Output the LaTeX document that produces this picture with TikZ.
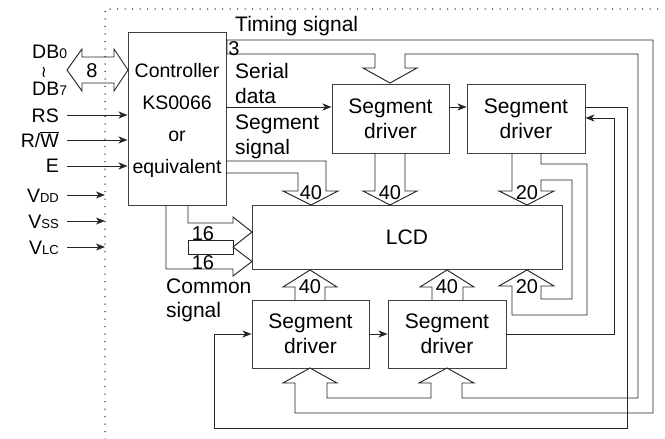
\documentclass[tikz,border=0pt]{standalone}
\usepackage{fontspec}
\setmainfont{Liberation Sans}
\newfontfamily\dejavu{DejaVu Sans}
\usetikzlibrary{arrows.meta}
\begin{document}
\begin{tikzpicture}[x=1pt,y=-1pt,
  ln/.style={draw=black!85, line width=0.95pt, line join=miter},
  box/.style={draw=black!75, line width=0.95pt, inner sep=0pt, align=center,
     font=\fontsize{21}{25}\selectfont},
  arr/.style={ln, -{Stealth[length=9pt,width=7pt,inset=2.5pt]}},
  txt/.style={inner sep=0pt, font=\fontsize{21}{25}\selectfont},
  sig/.style={inner sep=0pt, font=\fontsize{19.5}{20}\selectfont},
  num/.style={inner sep=0pt, font=\fontsize{20}{20}\selectfont},
  dotline/.style={draw=black!85, line width=1.5pt, line cap=round, dash pattern=on 0pt off 7.5pt}
]
\useasboundingbox (0,0) rectangle (665,439);
% dotted frame
\draw[dotline] (105,439) -- (105,9) -- (665,9);

% boxes
\node[box, minimum width=98pt, minimum height=173pt] (ctrl) at (177,118.5) {};
\node[inner sep=0pt, align=center, font=\fontsize{19.5}{32}\selectfont] (ctrltxt) at (177,120) {Controller\\KS0066\\or\\equivalent};
\node[box, minimum width=117pt, minimum height=69pt] (seg1) at (390.5,118.5) {Segment\\driver};
\node[box, minimum width=118pt, minimum height=69pt] (seg2) at (526,118.5) {Segment\\driver};
\node[box, minimum width=310pt, minimum height=64pt] (lcd) at (407,237) {LCD};
\node[box, minimum width=117pt, minimum height=68pt] (seg3) at (310.5,334) {Segment\\driver};
\node[box, minimum width=118pt, minimum height=68pt] (seg4) at (447,334) {Segment\\driver};

% left signals
\node[sig, anchor=base west] (db0) at (32,58) {DB{\fontsize{14}{14}\selectfont 0}};
\node[sig, anchor=base west] (db7) at (32,95) {DB{\fontsize{14}{14}\selectfont 7}};
\node[inner sep=0pt, font=\dejavu\fontsize{16}{16}\selectfont] (wr) at (44,72) {≀};
\node[sig, anchor=base east] (rs) at (59,122) {RS};
\node[sig, anchor=base east] (rw) at (59,147) {R/$\overline{\hbox{W}}$};
\node[sig, anchor=base east] (en) at (59,172) {E};
\node[sig, anchor=base east] (vdd) at (59,202) {V{\fontsize{13}{13}\selectfont DD}};
\node[sig, anchor=base east] (vss) at (59,228) {V{\fontsize{13}{13}\selectfont SS}};
\node[sig, anchor=base east] (vlc) at (59,254) {V{\fontsize{13}{13}\selectfont LC}};

\coordinate (pRS) at (67,115);
\coordinate (pRW) at (67,140);
\coordinate (pE) at (67,166);
\coordinate (frame) at (105,0);
\coordinate (pVDD) at (67,195);
\coordinate (pVSS) at (67,221);
\coordinate (pVLC) at (67,247);
\draw[arr] (pRS) -- (pRS -| ctrl.west);
\draw[arr] (pRW) -- (pRW -| ctrl.west);
\draw[arr] (pE) -- (pE -| ctrl.west);
\draw[arr] (pVDD) -- (pVDD -| frame);
\draw[arr] (pVSS) -- (pVSS -| frame);
\draw[arr] (pVLC) -- (pVLC -| frame);

% data bus double arrow
\draw[ln] (67,70) -- (82,49) -- (82,57) -- (114,57) -- (114,49) -- (128,70)
  -- (114,91) -- (114,83) -- (82,83) -- (82,91) -- cycle;
\node[num, anchor=base] (n8) at (92,77) {8};

% timing signal bus
\draw[ln] (226,40) -- (653,40) -- (653,413) -- (295,413) -- (295,383) -- (283,383)
  -- (310,368) -- (337,383) -- (327,383) -- (327,398) -- (431,398) -- (431,383)
  -- (419,383) -- (447,368) -- (474,383) -- (462,383) -- (462,398) -- (638,398)
  -- (638,54) -- (405,54) -- (405,68) -- (417,68) -- (390,83) -- (363,68)
  -- (375,68) -- (375,54) -- (227,54) -- (227,40);
\node[txt, anchor=base west] (ttim) at (235,31) {Timing signal};
\node[num, anchor=base] (n3) at (234,55) {3};

% serial data chain
\coordinate (sd) at (226,107);
\draw[arr] (sd) -- (sd -| seg1.west);
\draw[arr] (seg1.east |- sd) -- (seg2.west |- sd);
\draw[arr] (seg2.east |- sd) -- (627,107) -- (627,428) -- (214,428) -- (214,334) -- (seg3.west |- 0,334);
\coordinate (sd2) at (369,334);
\draw[arr] (sd2) -- (sd2 -| seg4.west);
\coordinate (fb) at (506,334);
\draw[arr] (fb) -- (614,334) -- (614,118) -- (seg2.east |- 0,118);
\node[txt, anchor=base west] (tser) at (235,78) {Serial};
\node[txt, anchor=base west] (tdat) at (235,103) {data};
\node[txt, anchor=base west] (tseg) at (235,129) {Segment};
\node[txt, anchor=base west] (tsig) at (235,154) {signal};

% segment signal bus from controller
\draw[ln] (226,161) -- (326,161) -- (326,191) -- (338,191) -- (311,205) -- (283,191)
  -- (298,191) -- (298,173) -- (226,173);
\node[num, anchor=base] (n40a) at (311,199) {40};

% seg1 -> LCD
\draw[ln] (375,153) -- (375,191) -- (363,191) -- (390,205) -- (417,191) -- (405,191) -- (405,153);
\node[num, anchor=base] (n40b) at (390,199) {40};

% seg2 -> LCD (top and bottom)
\draw[ln] (512,153) -- (512,191) -- (499,191) -- (527,205) -- (554,191) -- (541,191)
  -- (541,180) -- (572,180) -- (572,299) -- (541,299) -- (541,286) -- (554,286)
  -- (527,270) -- (499,286) -- (512,286) -- (512,315) -- (587,315) -- (587,164)
  -- (541,164) -- (541,153);
\node[num, anchor=base] (n20a) at (527,199) {20};
\node[num, anchor=base] (n20b) at (527,293) {20};

% seg3, seg4 -> LCD
\draw[ln] (295,300) -- (295,287) -- (283,287) -- (310,270) -- (337,287) -- (325,287) -- (325,300);
\node[num, anchor=base] (n40c) at (310,293) {40};
\draw[ln] (432,300) -- (432,287) -- (420,287) -- (447,270) -- (474,287) -- (463,287) -- (463,300);
\node[num, anchor=base] (n40d) at (447,293) {40};

% common signal
\draw[ln] (188,205) -- (188,223) -- (233,223) -- (233,217) -- (252,232) -- (233,247)
  -- (252,261.5) -- (233,276) -- (233,269) -- (166,269) -- (166,205);
\draw[ln] (233,240) -- (188,240) -- (188,254) -- (233,254) -- cycle;
\node[num, anchor=base] (n16a) at (203,240) {16};
\node[num, anchor=base] (n16b) at (203,269) {16};
\node[txt, anchor=base west] (tcom) at (166,293) {Common};
\node[txt, anchor=base west] (tcsig) at (166,317) {signal};
\end{tikzpicture}
\end{document}
